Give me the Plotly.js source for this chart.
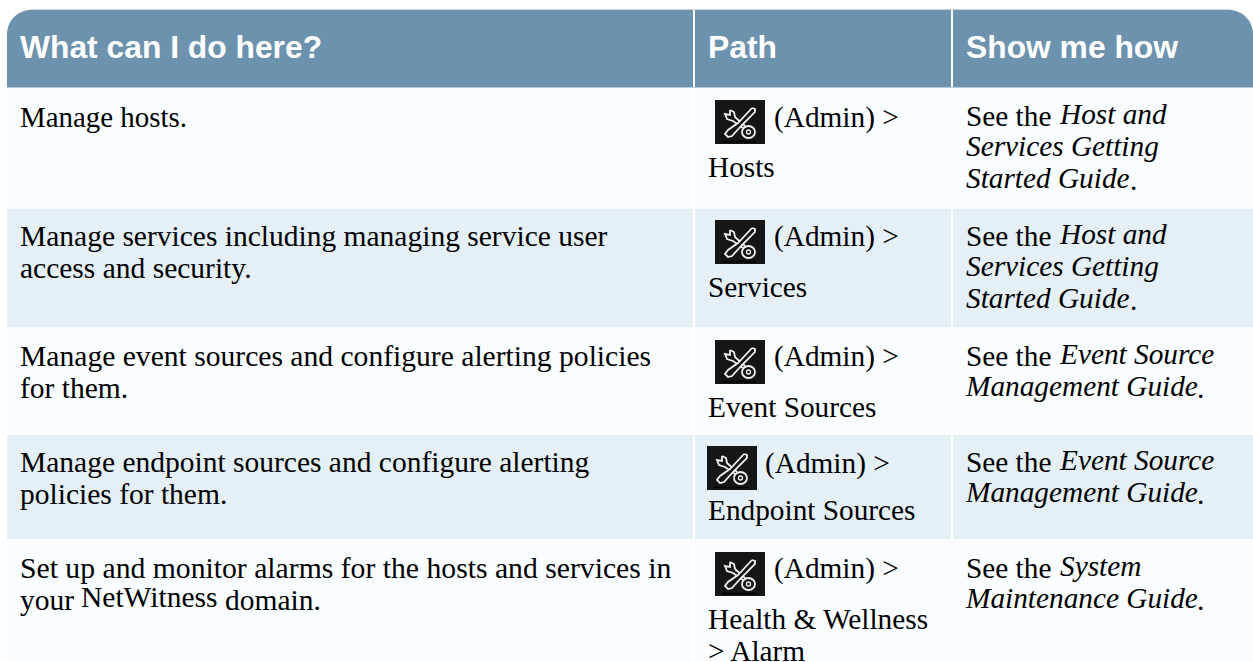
<!DOCTYPE html>
<html><head><meta charset="utf-8">
<script src="https://cdn.plot.ly/plotly-3.0.1.min.js"></script>
<style>html,body{margin:0;padding:0;background:#fff;overflow:hidden}#c{width:1253px;height:662px}</style>
</head><body><div id="c"></div>
<script>
// ---- content ----
const headers = ['What can I do here?', 'Path', 'Show me how'];
const tasks = ['Manage hosts.', 'Manage services including managing service user', 'access and security.',
  'Manage event sources and configure alerting policies', 'for them.',
  'Manage endpoint sources and configure alerting', 'policies for them.',
  'Set up and monitor alarms for the hosts and services in', 'your', 'NetWitness', 'domain.'];
const paths = ['(Admin) >', 'Hosts', '(Admin) >', 'Services', '(Admin) >', 'Event Sources',
  '(Admin) >', 'Endpoint Sources', '(Admin) >', 'Health &amp; Wellness', '> Alarm'];
const guideLead = ['See the', 'See the', 'See the', 'See the', 'See the'];
const guideTitles = ['Host and', 'Services Getting', 'Started Guide', 'Host and', 'Services Getting', 'Started Guide',
  'Event Source', 'Management Guide', 'Event Source', 'Management Guide', 'System', 'Maintenance Guide'];
const guideStops = ['.', '.', '.', '.', '.'];

// ---- layout geometry (pixels on the page) ----
const colEdges = [[7, 693], [695, 951], [953, 1253]];
const rowEdges = [[88, 209], [209, 327], [327, 435], [435, 539], [539, 662]];
const rowFills = ['#f9fdff', '#e4eff6', '#f9fdff', '#e4eff6', '#f9fdff'];
const headerX = [20, 708, 966], headerBase = 58;
const taskX = [20, 20, 20, 20, 20, 20, 20, 20, 20, 81, 225];
const taskBase = [127, 246, 278, 366, 398, 472, 504, 578, 610, 607, 610];
const taskSize = [28.9, 29.5, 29.5, 29.6, 29.5, 29.5, 29.5, 29.7, 29.5, 29.5, 29.5];
const pathX = [774, 708, 774, 708, 774, 708, 765, 708, 774, 708, 708];
const pathBase = [127, 177, 246, 297, 366, 417, 473, 520, 578, 629, 661];
const leadBase = [126, 246, 366, 472, 578];
const titleX = [1060, 966, 966, 1060, 966, 966, 1060, 966, 1060, 966, 1060, 966];
const titleBase = [124, 156, 188, 244, 276, 308, 364, 396, 470, 502, 576, 608];
const stopX = [1130, 1130, 1197, 1197, 1197];
const stopBase = [190, 310, 398, 504, 610];
const iconX = [715, 715, 715, 707, 715];
const iconY = [100, 220, 340, 446, 552];

const BODY = 29.3, HEAD = 31.8, SHIFT = 0.26;
const up = (arr, size) => arr.map(b => b - size * SHIFT);

// ---- table cells as bars ----
const cellY = [], cellW = [], cellH = [], cellBase = [], cellFill = [];
rowEdges.forEach((r, i) => colEdges.forEach(c => {
  cellY.push((r[0] + r[1]) / 2); cellH.push(r[1] - r[0]);
  cellBase.push(c[0]); cellW.push(c[1] - c[0]); cellFill.push(rowFills[i]);
}));
const cells = {type: 'bar', orientation: 'h', x: cellW, y: cellY, base: cellBase, width: cellH,
  marker: {color: cellFill, line: {width: 0}}, hoverinfo: 'skip', showlegend: false};

function textTrace(x, y, text, family, size, color) {
  return {type: 'scatter', mode: 'text', x, y, text, textposition: 'middle right', hoverinfo: 'skip', showlegend: false,
    textfont: {family, size, color}, cliponaxis: false};
}
const SERIF = '"Liberation Serif", serif', SANS = '"Liberation Sans", sans-serif';
const traces = [
  cells,
  textTrace(headerX, headers.map(() => headerBase - HEAD * SHIFT), headers.map(h => '<b>' + h + '</b>'), SANS, HEAD, '#ffffff'),
  textTrace(taskX, up(taskBase, BODY), tasks, SERIF, taskSize, '#000000'),
  textTrace(pathX, up(pathBase, BODY), paths, SERIF, BODY, '#000000'),
  textTrace(guideLead.map(() => 966), up(leadBase, BODY), guideLead, SERIF, BODY, '#000000'),
  textTrace(titleX, up(titleBase, BODY), guideTitles.map(t => '<i>' + t + '</i>'), SERIF, BODY, '#000000'),
  textTrace(stopX, up(stopBase, BODY), guideStops, SERIF, BODY, '#000000')
];

// ---- header band and icons ----
const shapes = [];
const R = 24, K = 0.45, T = 10, B = 87;
shapes.push({type: 'path', layer: 'below', line: {width: 0}, fillcolor: '#6d92ae',
  path: `M7,${B} L7,${T + R} C7,${T + R * K} ${7 + R * K},${T} ${7 + R},${T} L693,${T} L693,${B} Z`});
shapes.push({type: 'rect', layer: 'below', line: {width: 0}, fillcolor: '#6d92ae', x0: 695, x1: 951, y0: T, y1: B});
shapes.push({type: 'path', layer: 'below', line: {width: 0}, fillcolor: '#6d92ae',
  path: `M953,${T} L${1253 - R},${T} C${1253 - R * K},${T} 1253,${T + R * K} 1253,${T + R} L1253,${B} L953,${B} Z`});
shapes.push({type: 'line', layer: 'below', x0: 30, x1: 1230, y0: 9.5, y1: 9.5, line: {color: '#c9d6e0', width: 1}});
shapes.push({type: 'line', layer: 'below', x0: 7, x1: 1253, y0: 87.5, y1: 87.5, line: {color: '#b4cbdc', width: 1}});

iconX.forEach((ix, i) => {
  const iy = iconY[i];
  const p = pts => pts.map((q, k) => (k ? 'L' : 'M') + (ix + q[0]) + ',' + (iy + q[1])).join(' ');
  const stroke = {color: '#f0f0f0', width: 1.8};
  shapes.push({type: 'rect', x0: ix, x1: ix + 50, y0: iy, y1: iy + 44, fillcolor: '#161616', line: {width: 0}});
  // wrench
  shapes.push({type: 'path', line: stroke, path: p([[15, 10], [15, 15], [10, 14], [12, 19], [18, 21], [28, 28]])});
  shapes.push({type: 'path', line: stroke, path: p([[15, 10], [19, 12], [20, 17], [30, 26]])});
  shapes.push({type: 'circle', x0: ix + 27, x1: ix + 40, y0: iy + 26, y1: iy + 38, line: stroke, fillcolor: '#161616'});
  shapes.push({type: 'circle', x0: ix + 31.5, x1: ix + 35.5, y0: iy + 30, y1: iy + 34, line: {color: '#f0f0f0', width: 1.3}, fillcolor: '#161616'});
  // screwdriver
  shapes.push({type: 'path', line: stroke, fillcolor: '#161616',
    path: p([[37, 8], [40, 9], [40, 12], [26, 26], [17, 36], [13, 37], [10, 34], [13, 30], [23, 23], [37, 8]])});
  shapes.push({type: 'line', x0: ix + 7, x1: ix + 41, y0: iy + 41.5, y1: iy + 41.5, line: {color: '#000000', width: 1.5}});
});

const hidden = {visible: false, fixedrange: true, showgrid: false, zeroline: false};
Plotly.newPlot('c', traces, {
  width: 1253, height: 662, margin: {l: 0, r: 0, t: 0, b: 0, pad: 0},
  paper_bgcolor: '#ffffff', plot_bgcolor: '#ffffff', showlegend: false, barmode: 'overlay',
  xaxis: Object.assign({range: [0, 1253]}, hidden),
  yaxis: Object.assign({range: [662, 0]}, hidden),
  shapes
}, {displayModeBar: false, responsive: false});
</script></body></html>
